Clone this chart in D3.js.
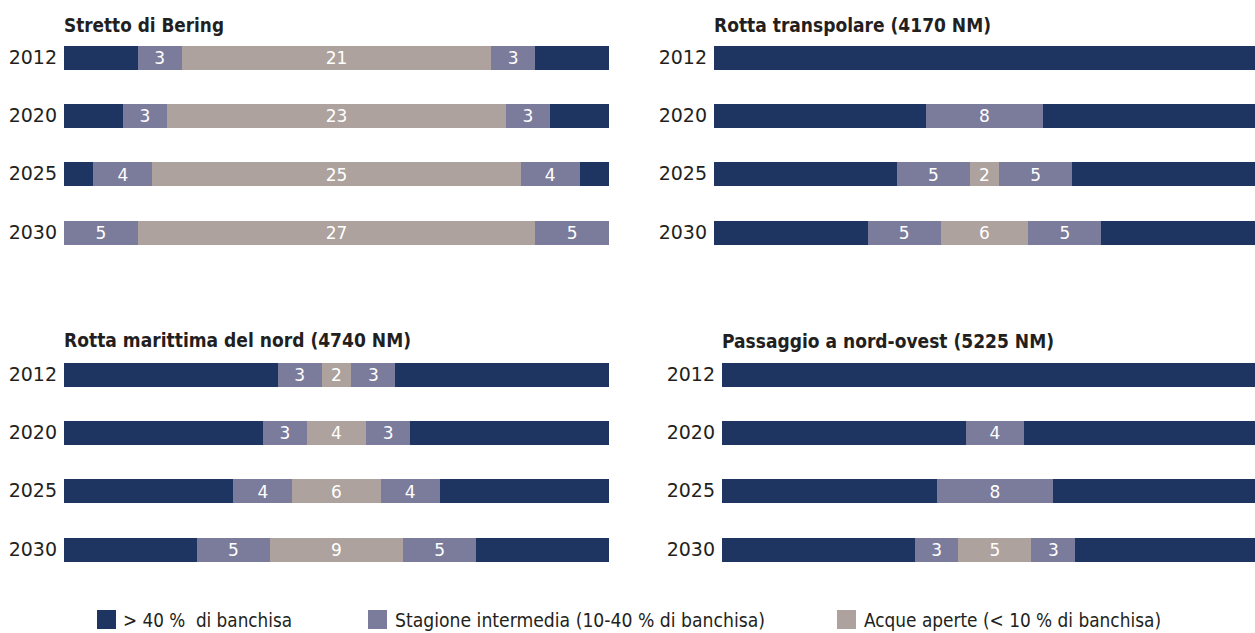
<!DOCTYPE html>
<html>
<head>
<meta charset="utf-8">
<script src="https://cdn.jsdelivr.net/npm/d3@7"></script>
<style>
body { margin: 0; background: #fff; }
text { fill: #231f20; font-family: "Liberation Sans Narrow", "DejaVu Sans Condensed", "DejaVu Sans", sans-serif; }
text.title { font-weight: bold; font-size: 20px; }
text.seg { fill: #fff; font-size: 17px; font-family: "DejaVu Sans", sans-serif; }
text.leg { font-size: 20px; white-space: pre; }
rect { shape-rendering: crispEdges; }
</style>
</head>
<body>
<div id="chart"></div>
<script>
// years on the vertical axis
var years = ["2012", "2020", "2025", "2030"];
// order of the pieces in every bar
var segTypes = ["ice", "mid", "open", "mid", "ice"];
var total = 37;

// one row per year: ice, intermediate, open, intermediate, ice
var bering      = [[5, 3, 21, 3, 5], [4, 3, 23, 3, 4], [2, 4, 25, 4, 2], [0, 5, 27, 5, 0]];
var transpolare = [[18.5, 0, 0, 0, 18.5], [14.5, 8, 0, 0, 14.5], [12.5, 5, 2, 5, 12.5], [10.5, 5, 6, 5, 10.5]];
var marittima   = [[14.5, 3, 2, 3, 14.5], [13.5, 3, 4, 3, 13.5], [11.5, 4, 6, 4, 11.5], [9, 5, 9, 5, 9]];
var passaggio   = [[18.5, 0, 0, 0, 18.5], [16.7, 4, 0, 0, 16.3], [14.7, 8, 0, 0, 14.3], [13.2, 3, 5, 3, 12.8]];

var titles = ["Stretto di Bering", "Rotta transpolare (4170 NM)",
              "Rotta marittima del nord (4740 NM)", "Passaggio a nord-ovest (5225 NM)"];
var legendTypes = ["ice", "mid", "open"];
var legendLabels = [">\u00a040 %\u00a0\u00a0di banchisa", "Stagione intermedia (10-40 % di banchisa)",
                    "Acque aperte (< 10 % di banchisa)"];

var color = d3.scaleOrdinal()
    .domain(["ice", "mid", "open"])
    .range(["#1e3461", "#7b7b9b", "#ada29d"]);

var w = 1255, h = 633;
var svg = d3.select("#chart").append("svg")
    .attr("width", w)
    .attr("height", h);

// panel placement
var panels = [
    {data: bering,      title: titles[0], x0: 64,  x1: 609,  y0: 46,  ty: 32,  tw: 160},
    {data: transpolare, title: titles[1], x0: 714, x1: 1255, y0: 46,  ty: 32,  tw: 277},
    {data: marittima,   title: titles[2], x0: 64,  x1: 609,  y0: 363, ty: 347, tw: 347},
    {data: passaggio,   title: titles[3], x0: 722, x1: 1262, y0: 363, ty: 348, tw: 332}
];

var step = 58.2, barh = 24;

function drawPanel(p) {
    var x = d3.scaleLinear().domain([0, total]).range([p.x0, p.x1]);
    var y = d3.scaleBand()
        .domain(years)
        .range([p.y0, p.y0 + 3 * step + barh])
        .paddingInner(1 - barh / step)
        .paddingOuter(0);

    var g = svg.append("g");

    g.append("text")
        .attr("class", "title")
        .attr("x", p.x0)
        .attr("y", p.ty)
        .attr("textLength", p.tw)
        .attr("lengthAdjust", "spacingAndGlyphs")
        .text(p.title);

    years.forEach(function(yr, i) {
        var start = 0;
        p.data[i].forEach(function(v, j) {
            if (v > 0) {
                g.append("rect")
                    .attr("x", Math.round(x(start)))
                    .attr("y", Math.round(y(yr)))
                    .attr("width", Math.round(x(start + v)) - Math.round(x(start)))
                    .attr("height", Math.round(y.bandwidth()))
                    .attr("fill", color(segTypes[j]));
                if (segTypes[j] != "ice") {
                    g.append("text")
                        .attr("class", "seg")
                        .attr("x", x(start + v / 2))
                        .attr("y", y(yr) + y.bandwidth() / 2)
                        .attr("dy", "0.36em")
                        .attr("text-anchor", "middle")
                        .text(v);
                }
            }
            start += v;
        });
    });

    var ax = g.append("g")
        .attr("transform", "translate(" + p.x0 + ",0)")
        .call(d3.axisLeft(y).tickSize(0).tickPadding(7));
    ax.select(".domain").remove();
    ax.attr("font-family", null).attr("font-size", null);
    ax.selectAll("text")
        .attr("fill", "#231f20")
        .style("font-family", "'DejaVu Sans', sans-serif")
        .style("font-size", "19px");
}

panels.forEach(drawPanel);

// legend
var legX = [97, 368, 837];
var legTX = [123, 395, 864];
var legW = [169, 370, 297];
var leg = svg.append("g");
legendTypes.forEach(function(t, i) {
    leg.append("rect")
        .attr("x", legX[i])
        .attr("y", 610)
        .attr("width", 19)
        .attr("height", 19)
        .attr("fill", color(t));
    leg.append("text")
        .attr("class", "leg")
        .attr("x", legTX[i])
        .attr("y", 627)
        .attr("textLength", legW[i])
        .attr("lengthAdjust", "spacingAndGlyphs")
        .text(legendLabels[i]);
});
</script>
</body>
</html>
